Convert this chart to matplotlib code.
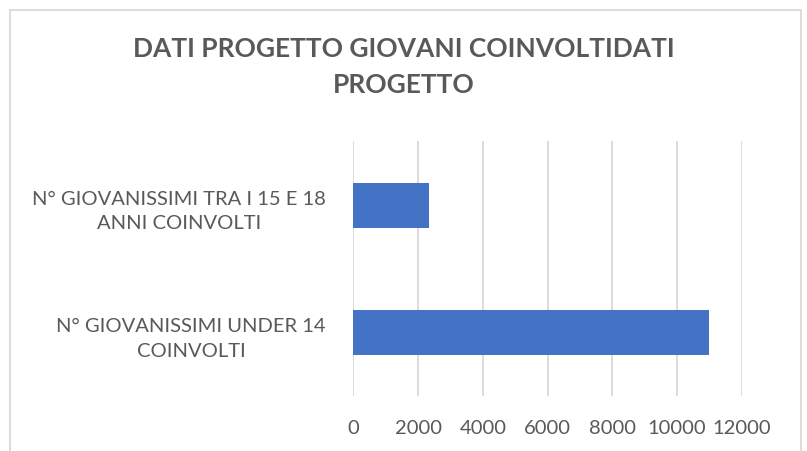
import matplotlib
matplotlib.use("Agg")
import matplotlib.pyplot as plt
from matplotlib.patches import Rectangle

# data
categorie = ["N° GIOVANISSIMI UNDER 14\nCOINVOLTI",
             "N° GIOVANISSIMI TRA I 15 E 18\nANNI COINVOLTI"]
valori = [11000, 2330]
xticks = [0, 2000, 4000, 6000, 8000, 10000, 12000]
titolo = "DATI PROGETTO GIOVANI COINVOLTIDATI\nPROGETTO"

testo = "#595959"
griglia = "#d9d9d9"

plt.rcParams['font.family'] = ['Lato', 'DejaVu Sans']

fig = plt.figure(figsize=(8.07, 4.52), dpi=100)
ax = fig.add_axes([0.438, 0.121, 0.919 - 0.438, 0.685 - 0.121])

ax.barh(range(len(valori)), valori, height=0.353, color="#4472C4", zorder=3)
ax.set_xlim(0, 12000)
ax.set_ylim(-0.5, 1.5)
ax.set_xticks(xticks)
ax.set_xticklabels([str(t) for t in xticks], fontsize=14.5, color=testo)
ax.set_yticks(range(len(categorie)))
ax.set_yticklabels(categorie, fontsize=14.5, color=testo,
                   multialignment='center', linespacing=1.55)
ax.tick_params(axis='x', length=0, pad=16)
ax.tick_params(axis='y', length=0, pad=20)
ax.grid(axis='x', color=griglia, linewidth=1.3, zorder=0)
for s in ax.spines.values():
    s.set_visible(False)

fig.text(0.5, 0.851, titolo, ha='center', va='center', fontsize=19,
         fontweight='bold', color=testo, linespacing=1.6)

# bordo del grafico
fig.patches.append(Rectangle((10 / 807, -0.1), (801 - 10) / 807, 1.1 - 10.5 / 452,
                             transform=fig.transFigure, fill=False,
                             edgecolor=griglia, linewidth=1.3))

fig.savefig("out.png", dpi=100)
